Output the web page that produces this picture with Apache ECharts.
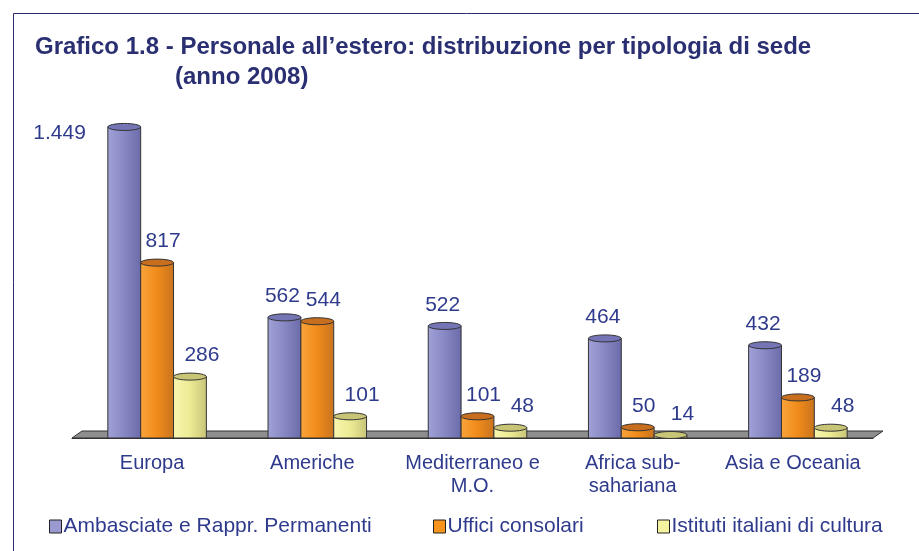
<!DOCTYPE html>
<html>
<head>
<meta charset="utf-8">
<script src="https://cdn.jsdelivr.net/npm/echarts@6/dist/echarts.min.js"></script>
<style>
  html, body { margin: 0; padding: 0; background: #fff; }
  #chart { width: 919px; height: 551px; }
</style>
</head>
<body>
<div id="chart"></div>
<script>
const categories = ['Europa', 'Americhe', 'Mediterraneo e\nM.O.', 'Africa sub-\nsahariana', 'Asia e Oceania'];
const ambasciate = [1449, 562, 522, 464, 432];
const uffici = [817, 544, 101, 50, 189];
const istituti = [286, 101, 48, 14, 48];
const seriesNames = ['Ambasciate e Rappr. Permanenti', 'Uffici consolari', 'Istituti italiani di cultura'];

const FONT = '"Liberation Sans", Arial, sans-serif';
const NAVY = '#2e3a8c';

const palettes = [
    { base: '#9a9ad0', stops: ['#a2a2d8', '#8787c4', '#6b6ba9'], top: '#7575b6' },
    { base: '#f7941d', stops: ['#f9a43c', '#f08b1a', '#c7731f'], top: '#c86e1f' },
    { base: '#f6f3a0', stops: ['#faf7ae', '#eceb94', '#c8c478'], top: '#c9c577' },
];
const labelShift = [-2, 6, 12];

const fmt = (v) => String(v).replace(/\B(?=(\d{3})+(?!\d))/g, '.');

function cylinder(idx) {
    const pal = palettes[idx];
    return function (params, api) {
        const cat = api.value(0);
        const val = api.value(1);
        const band = api.size([1, 0])[0];
        const w = band * 0.205;
        const base = api.coord([cat, 0]);
        const top = api.coord([cat, val])[1];
        const x0 = base[0] - 1.5 * w + idx * w + 5;
        const cx = x0 + w / 2;
        const ry = 3.5;
        const overflow = top - 21 < params.coordSys.y + 10;
        return {
            type: 'group',
            children: [
                {
                    type: 'rect',
                    shape: { x: x0, y: top, width: w, height: base[1] - top },
                    style: {
                        fill: {
                            type: 'linear', x: 0, y: 0, x2: 1, y2: 0,
                            colorStops: [
                                { offset: 0, color: pal.stops[0] },
                                { offset: 0.5, color: pal.stops[1] },
                                { offset: 1, color: pal.stops[2] },
                            ],
                        },
                        stroke: '#333',
                        lineWidth: 1,
                    },
                },
                {
                    type: 'ellipse',
                    shape: { cx: cx, cy: top, rx: w / 2, ry: ry },
                    style: { fill: pal.top, stroke: '#333', lineWidth: 1 },
                },
                {
                    type: 'text',
                    style: {
                        text: fmt(val),
                        x: overflow ? x0 - 22 : cx + labelShift[idx],
                        y: overflow ? top + 6 : top - 21,
                        align: overflow ? 'right' : 'center',
                        verticalAlign: 'middle',
                        fill: NAVY,
                        font: '21px ' + FONT,
                    },
                },
            ],
        };
    };
}

function floor(params, api) {
    const band = api.size([1, 0])[0];
    const first = api.coord([0, 0]);
    const last = api.coord([categories.length - 1, 0]);
    const xl = first[0] - band / 2;
    const xr = last[0] + band / 2;
    const y = first[1];
    return {
        type: 'polygon',
        shape: { points: [[xl, y], [xl + 10, y - 7], [xr + 10, y - 7], [xr, y]] },
        style: { fill: '#8e8e8e', stroke: '#333', lineWidth: 1 },
    };
}

const chart = echarts.init(document.getElementById('chart'), null, { renderer: 'canvas' });

const legendBase = {
    top: 511,
    icon: 'rect',
    itemWidth: 12,
    itemHeight: 13,
    itemStyle: { borderColor: '#222', borderWidth: 1 },
    textStyle: { color: NAVY, fontSize: 21, fontFamily: FONT, padding: [0, 0, 0, -3] },
};

const option = {
    backgroundColor: '#fff',
    animation: false,
    graphic: [
        {
            type: 'rect',
            shape: { x: 13.5, y: 13.5, width: 1000, height: 1000 },
            style: { fill: 'none', stroke: '#2b2d6e', lineWidth: 1 },
            silent: true,
        },
        {
            type: 'text',
            left: 35,
            top: 35,
            style: {
                text: 'Grafico 1.8 - Personale all\u2019estero: distribuzione per tipologia di sede',
                fill: '#2a2f72',
                font: 'bold 24px ' + FONT,
            },
        },
        {
            type: 'text',
            left: 175,
            top: 65,
            style: { text: '(anno 2008)', fill: '#2a2f72', font: 'bold 24px ' + FONT },
        },
    ],
    legend: [
        Object.assign({ left: 44, data: [seriesNames[0]] }, legendBase),
        Object.assign({ left: 428, data: [seriesNames[1]] }, legendBase),
        Object.assign({ left: 652, data: [seriesNames[2]] }, legendBase),
    ],
    grid: { left: 72, right: 46, top: 116, bottom: 113 },
    xAxis: {
        type: 'category',
        data: categories,
        axisLine: { lineStyle: { color: '#333', width: 1 } },
        axisTick: { length: 6, lineStyle: { color: '#333' } },
        axisLabel: {
            color: NAVY,
            fontSize: 20,
            fontFamily: FONT,
            lineHeight: 23,
            margin: 14,
            interval: 0,
        },
    },
    yAxis: { type: 'value', min: 0, max: 1500, show: false },
    series: [
        {
            type: 'custom',
            name: 'floor',
            z: 1,
            silent: true,
            renderItem: floor,
            data: [[0, 0]],
        },
    ].concat([ambasciate, uffici, istituti].map((vals, i) => ({
        type: 'custom',
        name: seriesNames[i],
        z: 2 + i,
        itemStyle: { color: palettes[i].base },
        renderItem: cylinder(i),
        encode: { x: 0, y: 1 },
        data: vals.map((v, k) => [k, v]),
    }))),
};

chart.setOption(option);
</script>
</body>
</html>
